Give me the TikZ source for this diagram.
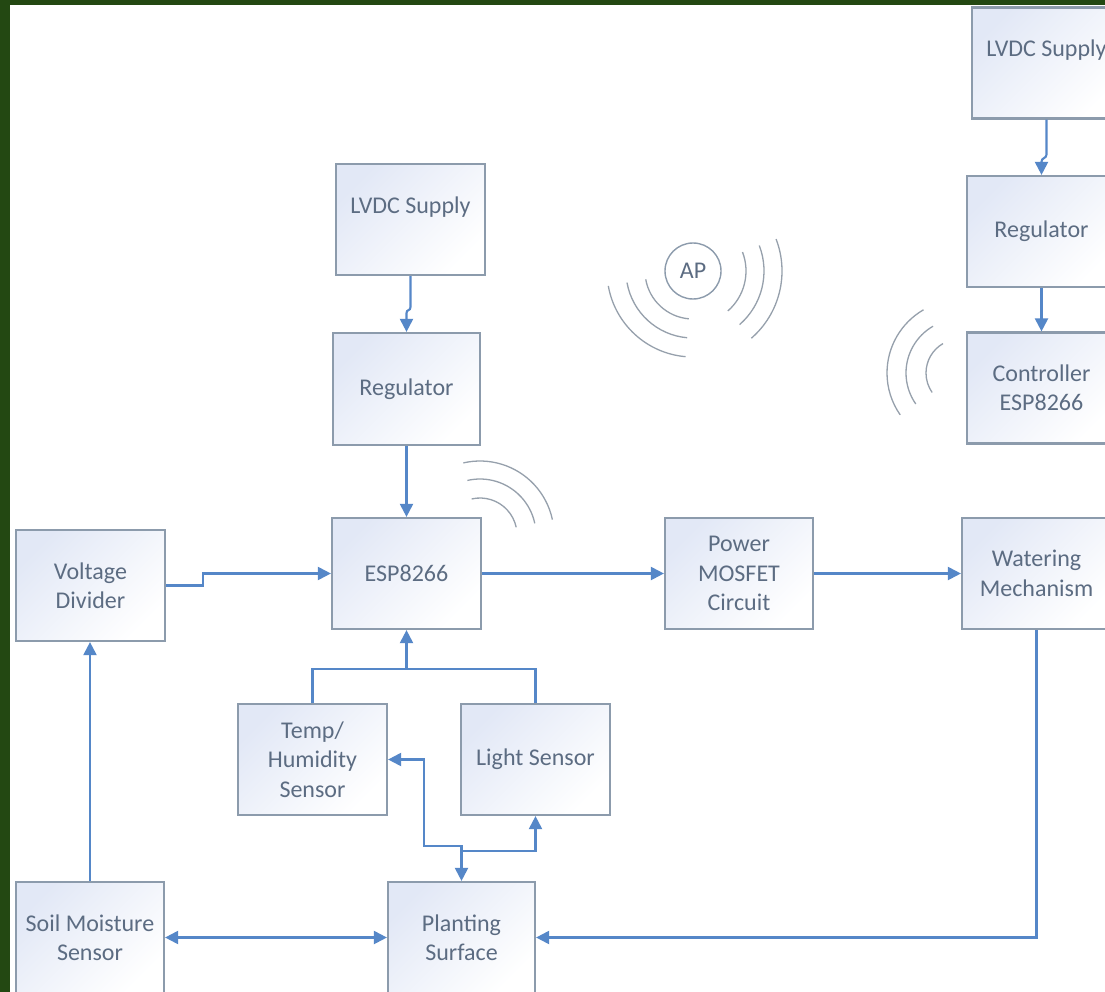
\documentclass[tikz,border=0pt]{standalone}
\usepackage{fontspec}
\setmainfont{Carlito}
\usetikzlibrary{arrows.meta,calc}
\definecolor{frame}{RGB}{35,72,18}
\definecolor{boxline}{RGB}{140,155,172}
\definecolor{txt}{RGB}{92,108,130}
\definecolor{arrowc}{RGB}{85,135,200}
\definecolor{tint}{RGB}{226,232,246}
\definecolor{waves}{RGB}{150,160,172}
\begin{document}
\begin{tikzpicture}[x=1pt,y=1pt,
 blk/.style={draw=boxline, line width=2.2pt, top color=tint, bottom color=white, shading angle=45,
   minimum width=149pt, minimum height=111pt, inner sep=0pt, align=center, text=txt,
   font=\fontsize{24}{29.5}\selectfont},
 conn/.style={draw=arrowc, line width=2.1pt},
 arr/.style={conn, -{Triangle[length=13pt,width=13pt]}},
 darr/.style={conn, {Triangle[length=13pt,width=13pt]}-{Triangle[length=13pt,width=13pt]}},
 wave/.style={draw=waves, line width=1.3pt}]
\useasboundingbox (0,0) rectangle (1105,-992);
\clip (0,0) rectangle (1105,-992);
\fill[white] (-5,5) rectangle (1110,-997);

% boxes
\node[blk] (lvdcR) at (1046.5,-63) {LVDC Supply\\\mbox{}};
\node[blk] (regR) at (1041.5,-231.5) {Regulator};
\node[blk] (ctrl) at (1041.5,-388) {Controller\\ESP8266};
\node[blk] (lvdcM) at (410.5,-219.5) {LVDC Supply\\\mbox{}};
\node[blk, minimum width=147pt, minimum height=112pt] (regM) at (406.5,-389) {Regulator};
\node[blk] (esp) at (406.5,-573.5) {ESP8266};
\node[blk] (vd) at (90.5,-585.5) {Voltage\\Divider};
\node[blk, minimum width=148pt] (mos) at (739,-573.5) {Power\\MOSFET\\Circuit};
\node[blk] (wat) at (1036.5,-573.5) {Watering\\Mechanism};
\node[blk] (temp) at (312.5,-759.5) {Temp/\\Humidity\\Sensor};
\node[blk] (light) at (535.5,-759.5) {Light Sensor};
\node[blk, minimum width=147pt] (plant) at (461.5,-937.5) {Planting\\Surface};
\node[blk, minimum width=148pt] (soil) at (90,-937.5) {Soil Moisture\\Sensor};

% access point
\node[circle, draw=boxline, line width=1.4pt, minimum size=56pt, inner sep=0pt, text=txt,
  font=\fontsize{24}{28}\selectfont] (ap) at (693,-271) {AP};
\foreach \r in {48,67,86}
  \draw[wave] (ap.center) ++(190:\r) arc[start angle=190, end angle=265, radius=\r];
\foreach \r in {53,71,89}
  \draw[wave] (ap.center) ++(21:\r) arc[start angle=21, end angle=-49, radius=\r];

% wireless arcs of the nodes
\coordinate (espw) at (480,-535);
\foreach \r in {37,56,74}
  \draw[wave] (espw) ++(103:\r) arc[start angle=103, end angle=12, radius=\r];
\coordinate (ctrlw) at (960,-373);
\foreach \r in {34,54,73}
  \draw[wave] (ctrlw) ++(120:\r) arc[start angle=120, end angle=215, radius=\r];

% connectors
\draw[arr] (lvdcR.south) -- ++(0,-35) .. controls +(0,-4) and +(0,4) .. ++(-5,-7) -- (regR.north);
\draw[arr] (regR.south) -- (ctrl.north);
\draw[arr] (lvdcM.south) -- ++(0,-31) .. controls +(0,-4) and +(0,4) .. ++(-4,-6) -- (regM.north);
\draw[arr] (regM.south) -- (esp.north);
\draw[arr] (vd.east) -- ++(37,0) |- (esp.west);
\draw[arr] (esp.east) -- (mos.west);
\draw[arr] (mos.east) -- (wat.west);
\draw[arr] (wat.south) |- (plant.east);
\draw[darr] (soil.east) -- (plant.west);
\draw[arr] (soil.north) -- (soil.north |- vd.south);
\coordinate (sj) at ($(esp.south)+(0,-39)$);
\draw[conn] (temp.north) |- (sj) -| (light.north);
\draw[arr] (sj) -- (esp.south);
\coordinate (pj) at (424,-846);
\draw[darr] (temp.east) -| (pj) -| (plant.north);
\coordinate (lj) at ($(plant.north)+(0,30)$);
\draw[arr] (lj) -| (light.south);

% frame
\fill[frame] (-5,5) rectangle (10,-997);
\fill[frame] (-5,5) rectangle (1110,-5);
\end{tikzpicture}
\end{document}
